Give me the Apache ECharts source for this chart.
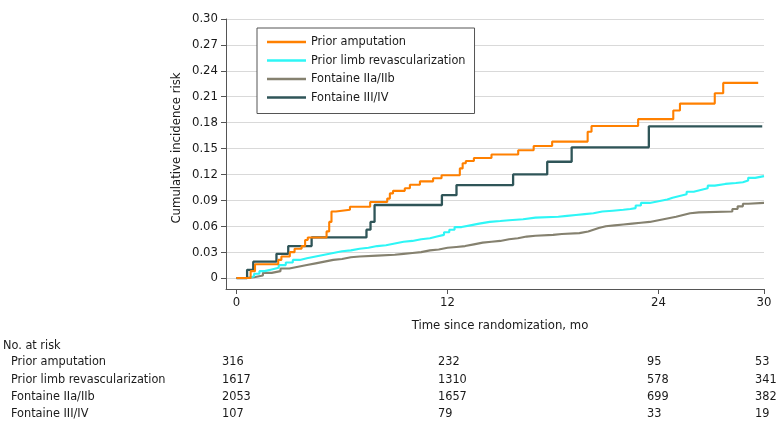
<!DOCTYPE html>
<html>
<head>
<meta charset="utf-8">
<script src="https://cdn.jsdelivr.net/npm/echarts@6/dist/echarts.min.js"></script>
<style>
html,body{margin:0;padding:0;background:#fff;}
#chart{width:783px;height:433px;}
</style>
</head>
<body>
<div id="chart"></div>
<script>
var FONT = "'Liberation Sans Narrow', 'DejaVu Sans Condensed', sans-serif";

var seriesNames = ['Prior amputation', 'Prior limb revascularization', 'Fontaine IIa/IIb', 'Fontaine III/IV'];
var seriesColors = ['#ff8000', '#2ef6f6', '#85816f', '#2f5558'];

var xTicks = [0, 12, 24, 30];
var yTicks = [0, 0.03, 0.06, 0.09, 0.12, 0.15, 0.18, 0.21, 0.24, 0.27, 0.30];

var priorAmputation = [
  [0,0],[0.8,0.008],[1.05,0.016],[2.37,0.021],[2.55,0.025],[3.03,0.030],[3.3,0.034],[3.7,0.037],
  [3.9,0.044],[4.05,0.047],[5.12,0.054],[5.27,0.065],[5.4,0.077],[5.65,0.079],[6.45,0.0826],
  [7.6,0.088],[8.57,0.092],[8.72,0.098],[8.9,0.101],[9.57,0.104],[9.86,0.108],[10.43,0.112],
  [11.18,0.1155],[11.66,0.119],[12.7,0.127],[12.86,0.133],[13.04,0.1355],[13.5,0.139],
  [14.5,0.143],[16.02,0.148],[16.9,0.153],[17.95,0.158],[19.97,0.1695],[20.19,0.176],
  [22.84,0.184],[24.84,0.194],[25.22,0.202],[27.2,0.214],[27.68,0.226],[29.67,0.226]
];
var priorLimbRevasc = [
  [0.3,0],[0.7,0.002],[1.0,0.005],[1.3,0.008],[1.6,0.010],[2.0,0.012],[2.4,0.015],[2.8,0.018],
  [3.2,0.021],[3.6,0.023],[4.0,0.025],[4.5,0.027],[5.0,0.029],[5.5,0.031],[6.0,0.032],[6.5,0.034],
  [7.0,0.035],[7.5,0.037],[8.0,0.038],[8.5,0.040],[9.0,0.042],[9.5,0.043],[10.0,0.045],[10.5,0.046],
  [11.0,0.048],[11.4,0.050],[11.8,0.053],[12.1,0.056],[12.4,0.059],[12.8,0.061],[13.3,0.063],
  [13.8,0.065],[14.4,0.066],[15.0,0.067],[15.5,0.068],[16.3,0.070],[17.0,0.071],[18.3,0.072],
  [18.8,0.073],[19.3,0.074],[19.8,0.075],[20.3,0.077],[20.8,0.078],[21.4,0.079],[22.0,0.080],
  [22.4,0.081],[22.7,0.084],[23.0,0.087],[23.5,0.089],[24.0,0.091],[24.5,0.093],[24.8,0.095],
  [25.2,0.097],[25.6,0.100],[26.0,0.102],[26.4,0.104],[26.8,0.107],[27.2,0.109],[27.8,0.110],
  [28.4,0.111],[28.8,0.113],[29.1,0.116],[29.5,0.118],[30.0,0.1185]
];
var fontaineIIaIIb = [
  [0,0],[0.5,0.001],[1.0,0.003],[1.5,0.006],[2.0,0.008],[2.5,0.011],[3.0,0.013],[3.5,0.015],
  [4.0,0.017],[4.5,0.019],[5.0,0.021],[5.5,0.022],[6.0,0.024],[6.5,0.025],[7.0,0.026],[8.0,0.027],
  [9.0,0.028],[9.5,0.029],[10.0,0.030],[10.5,0.032],[11.0,0.033],[11.5,0.035],[12.0,0.036],
  [12.5,0.037],[13.0,0.039],[13.5,0.041],[14.0,0.042],[14.5,0.043],[15.0,0.045],[15.5,0.046],
  [16.0,0.048],[16.5,0.049],[17.0,0.050],[18.0,0.051],[18.5,0.052],[19.5,0.054],[20.0,0.056],
  [20.3,0.058],[20.6,0.060],[21.0,0.061],[21.5,0.062],[22.0,0.063],[22.5,0.064],[23.0,0.065],
  [23.5,0.067],[24.0,0.069],[24.5,0.071],[25.0,0.073],[25.4,0.075],[25.8,0.076],[26.3,0.077],
  [28.2,0.080],[28.5,0.083],[28.8,0.086],[29.1,0.087],[30.0,0.0877]
];
var fontaineIIIIV = [
  [0,0],[0.6,0.0095],[0.95,0.0189],[2.27,0.028],[2.94,0.037],[4.27,0.047],[7.39,0.056],
  [7.62,0.065],[7.85,0.0846],[11.68,0.096],[12.51,0.1077],[15.73,0.120],[17.67,0.1347],
  [19.06,0.1514],[23.45,0.1757],[29.9,0.1757]
];
var seriesData = [priorAmputation, priorLimbRevasc, fontaineIIaIIb, fontaineIIIIV];

var riskTitle = 'No. at risk';
var riskRows = ['Prior amputation', 'Prior limb revascularization', 'Fontaine IIa/IIb', 'Fontaine III/IV'];
var riskCounts = [
  ['316', '232', '95', '53'],
  ['1617', '1310', '578', '341'],
  ['2053', '1657', '699', '382'],
  ['107', '79', '33', '19']
];
var riskColX = [222, 438, 647, 755];
var riskRowY = [362, 379.3, 396.7, 414];

var chart = echarts.init(document.getElementById('chart'), null, {renderer: 'canvas'});

var FS = 12.6;
var textColor = '#1a1a1a';
var graphics = [];
graphics.push({type: 'text', x: 3, y: 346, style: {text: riskTitle, font: FS + 'px ' + FONT, fill: textColor, verticalAlign: 'middle'}});
riskRows.forEach(function (r, i) {
  graphics.push({type: 'text', x: 11, y: riskRowY[i], style: {text: r, font: FS + 'px ' + FONT, fill: textColor, verticalAlign: 'middle'}});
  riskCounts[i].forEach(function (c, j) {
    graphics.push({type: 'text', x: riskColX[j], y: riskRowY[i], style: {text: c, font: FS + 'px ' + FONT, fill: textColor, verticalAlign: 'middle'}});
  });
});
graphics.push({type: 'text', x: 500, y: 326, style: {text: 'Time since randomization, mo', font: '13px ' + FONT, fill: textColor, align: 'center', verticalAlign: 'middle'}});
graphics.push({type: 'text', x: 177, y: 148, rotation: Math.PI / 2, style: {text: 'Cumulative incidence risk', font: '13px ' + FONT, fill: textColor, align: 'center', verticalAlign: 'middle'}});

var series = [{
  name: 'grid', type: 'line', data: [], silent: true, z: 0,
  markLine: {
    silent: true, symbol: ['none', 'none'], animation: false, z: 0,
    label: {show: false},
    lineStyle: {color: '#d9d9d9', width: 1, type: 'solid'},
    emphasis: {disabled: true},
    data: yTicks.map(function (v) { return {yAxis: v}; })
  }
}];
seriesNames.forEach(function (n, i) {
  series.push({
    name: n, type: 'line', step: 'end', data: seriesData[i],
    symbol: 'none', showSymbol: false,
    lineStyle: {color: seriesColors[i], width: i === 3 ? 2.3 : 2.1},
    itemStyle: {color: seriesColors[i]},
    z: [5, 3, 2, 4][i]
  });
});

var option = {
  animation: false,
  backgroundColor: '#ffffff',
  textStyle: {fontFamily: FONT},
  grid: {left: 226, right: 19, top: 19, bottom: 144},
  legend: {
    orient: 'vertical',
    left: 257, top: 28, z: 20,
    padding: [6, 9, 8, 10],
    borderColor: '#555555', borderWidth: 1,
    backgroundColor: '#ffffff',
    icon: 'rect',
    itemWidth: 39, itemHeight: 2.5,
    itemGap: 2.5,
    textStyle: {fontFamily: FONT, fontSize: 12.6, color: textColor, lineHeight: 16},
    data: seriesNames
  },
  xAxis: {
    type: 'value', min: -0.6, max: 30,
    axisLine: {show: true, onZero: false, lineStyle: {color: '#555555', width: 1}},
    axisTick: {show: true, length: 5, lineStyle: {color: '#555555'}, customValues: xTicks},
    axisLabel: {show: true, customValues: xTicks, margin: 7, fontFamily: FONT, fontSize: 13, color: textColor},
    splitLine: {show: false}
  },
  yAxis: {
    type: 'value', min: -0.0127, max: 0.30,
    axisLine: {show: true, onZero: false, lineStyle: {color: '#555555', width: 1}},
    axisTick: {show: true, length: 5, lineStyle: {color: '#555555'}, customValues: yTicks},
    axisLabel: {show: true, customValues: yTicks, margin: 8, fontFamily: FONT, fontSize: 13, color: textColor,
      formatter: function (v) { return v === 0 ? '0' : v.toFixed(2); }},
    splitLine: {show: false}
  },
  series: series,
  graphic: graphics
};
chart.setOption(option);
</script>
</body>
</html>
